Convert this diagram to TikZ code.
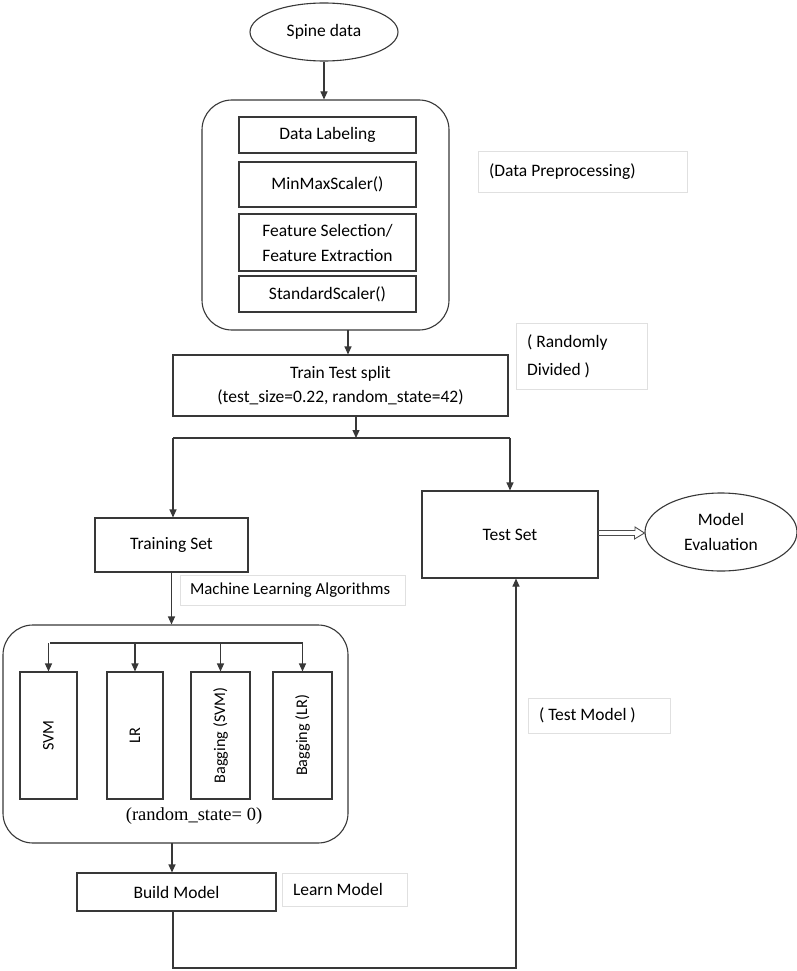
\documentclass[tikz,border=0pt]{standalone}
\usepackage{fontspec}
\setmainfont{Carlito}
\newfontfamily\tnrfont{Liberation Serif}
\usetikzlibrary{arrows.meta,shapes.geometric}
\tikzset{
  ln/.style={draw=black!78,line width=1.1pt},
  arr/.style={ln,-{Triangle[length=8pt,width=7pt]}},
  box/.style={ln,rectangle,inner sep=0pt,font=\fontsize{17.5}{25}\selectfont,align=center},
  vbox/.style={box,rotate=90,font=\fontsize{16.2}{20}\selectfont},
  oval/.style={ln,ellipse,inner sep=0pt,font=\fontsize{17.5}{25}\selectfont,align=center},
  rbox/.style={ln,rectangle,rounded corners=30pt,inner sep=0pt},
  lbl/.style={draw=black!12,line width=0.8pt,rectangle,inner ysep=0pt,inner xsep=11pt,font=\fontsize{17.5}{28}\selectfont,align=flush left},
}
\begin{document}
\begin{tikzpicture}[x=1pt,y=-1pt]
\useasboundingbox (0,0) rectangle (797,971);
\fill[white] (0,0) rectangle (797,971);

% top
\node[oval,minimum width=148,minimum height=58] (spine) at (324,32) {Spine data};
\node[rbox,minimum width=247,minimum height=230] (prep) at (325.5,215) {};
\node[box,minimum width=177,minimum height=36] (dl) at (327.5,135) {Data Labeling};
\node[box,minimum width=177,minimum height=45] (mms) at (327.5,184.5) {MinMaxScaler()};
\node[box,minimum width=177,minimum height=57] (fs) at (327.5,242.5) {Feature Selection/\\Feature Extraction};
\node[box,minimum width=177,minimum height=36] (ss) at (327.5,294) {StandardScaler()};
\node[lbl,text width=187,minimum height=41] (dp) at (582.5,171.5) {(Data Preprocessing)};

\node[box,minimum width=335,minimum height=61,font=\fontsize{17.5}{24}\selectfont] (tts) at (340.5,385.5) {Train Test split\\(test\_size=0.22, random\_state=42)};
\node[lbl,text width=109,minimum height=66] (rd) at (581.5,356) {( Randomly\\Divided )};

\node[box,minimum width=153,minimum height=54] (train) at (171.5,545) {Training Set};
\node[box,minimum width=176,minimum height=87] (test) at (510,534.5) {Test Set};
\node[oval,minimum width=152,minimum height=78] (eval) at (721,532) {Model\\Evaluation};
\node[lbl,text width=205,inner xsep=10pt,minimum height=30,font=\fontsize{16.8}{20}\selectfont] (ml) at (292.5,590) {Machine Learning Algorithms};

% algorithms
\node[rbox,minimum width=345,minimum height=218] (algo) at (175.5,734) {};
\node[vbox,minimum width=127,minimum height=57] (svm) at (48.5,735.5) {SVM};
\node[vbox,minimum width=127,minimum height=56] (lr) at (135,735.5) {LR};
\node[vbox,minimum width=127,minimum height=59] (bsvm) at (220.5,735.5) {Bagging (SVM)};
\node[vbox,minimum width=127,minimum height=59] (blr) at (302.5,735.5) {Bagging (LR)};
\node[inner sep=0pt,font=\tnrfont\fontsize{18.5}{22}\selectfont] (rs) at (194,816) {(random\_state= 0)};

\node[box,minimum width=199,minimum height=38] (build) at (176.5,892) {Build Model};
\node[lbl,text width=103,minimum height=33] (learn) at (344.5,889.5) {Learn Model};
\node[lbl,text width=120,minimum height=35] (tm) at (599,715.5) {( Test Model )};

% coordinates
\coordinate (a1) at (348,330);
\coordinate (jM) at (356,438);
\coordinate (jL) at (173,438);
\coordinate (jR) at (510,438);
\coordinate (dL) at (50,643);
\coordinate (dR) at (303,643);
\coordinate (ab) at (172,843);
\coordinate (fb1) at (173,968);
\coordinate (fb2) at (516,968);
\coordinate (da) at (598,533);

% connectors
\draw[arr] (spine.south) -- (spine.south |- prep.north);
\draw[arr] (a1) -- (a1 |- tts.north);
\draw[arr] (tts.south -| jM) -- (jM);
\draw[ln] (jL) -- (jR);
\draw[arr] (jL) -- (jL |- train.north);
\draw[arr] (jR) -- (jR |- test.north);
\draw[arr] (train.south) -- (train.south |- algo.north);
\draw[ln] (dL) -- (dR);
\draw[arr] (svm.east |- dL) -- (svm.east);
\draw[arr] (lr.east |- dL) -- (lr.east);
\draw[arr] (bsvm.east |- dL) -- (bsvm.east);
\draw[arr] (blr.east |- dL) -- (blr.east);
\draw[arr] (ab) -- (ab |- build.north);
\draw[arr] (build.south -| fb1) -- (fb1) -- (fb2) -- (fb2 |- test.south);
% hollow double arrow
\draw[draw=black!70,line width=0.9pt,line join=miter]
  ([yshift=2.5pt]da) -- ++(37,0) -- ++(0,-3.5) -- (eval.west |- da) -- ++(-10,6) -- ++(0,-3.5) -- ([yshift=-2.5pt]da);
\end{tikzpicture}
\end{document}
